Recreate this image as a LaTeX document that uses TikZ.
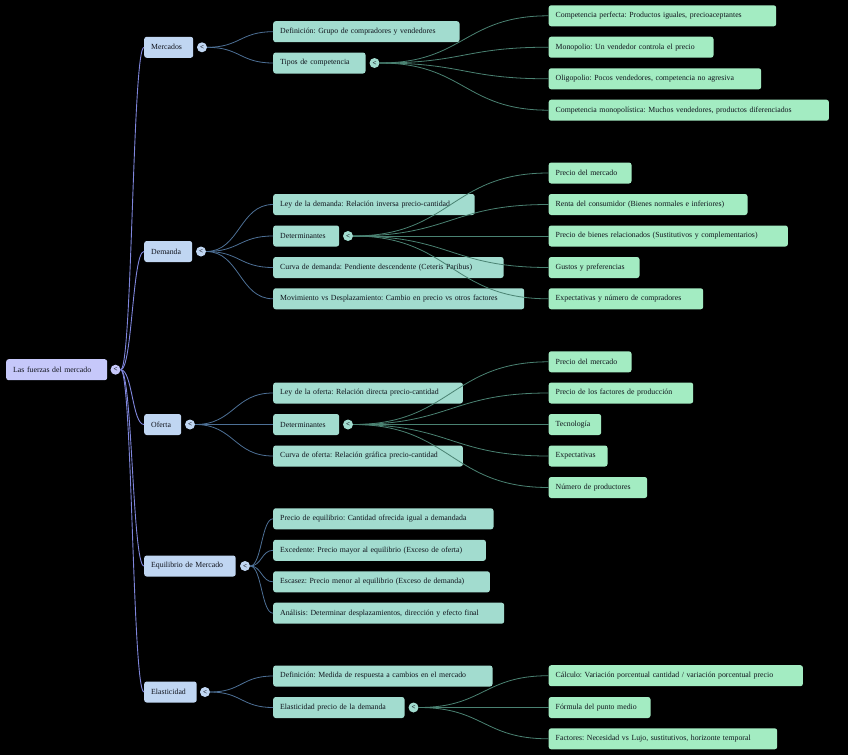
\documentclass[tikz,border=0pt]{standalone}
\usepackage{fontspec}
\setmainfont{Liberation Serif}
\usepackage{xcolor}
\usepackage{tikz}
\usetikzlibrary{calc}

\definecolor{rootfill}{HTML}{C6C8FA}
\definecolor{mainfill}{HTML}{C0D6F2}
\definecolor{subfill}{HTML}{A2DCCF}
\definecolor{leaffill}{HTML}{A3ECC2}
\definecolor{rootwire}{HTML}{7F86DC}
\definecolor{mainwire}{HTML}{4D7096}
\definecolor{subwire}{HTML}{4A8272}
\definecolor{ink}{HTML}{10131C}

% curved link: horizontal at both ends, bend at half way
\newcommand{\branch}[3]{\draw[#1] let \p1=(#2), \p2=(#3) in (\p1) .. controls ({(\x1+\x2)/2},\y1) and ({(\x1+\x2)/2},\y2) .. (\p2);}

\begin{document}
\begin{tikzpicture}[x=1pt, y=-1pt,
		box/.style={anchor=west, rounded corners=2.5pt, minimum height=21pt, inner xsep=7pt, inner ysep=0pt, align=left, text=ink, font=\fontsize{7.8}{9}\selectfont\frenchspacing},
		rootbox/.style={box, fill=rootfill},
		mainbox/.style={box, fill=mainfill},
		subbox/.style={box, fill=subfill},
		leafbox/.style={box, fill=leaffill},
		tog/.style={circle, fill=#1, inner sep=0pt, minimum size=10pt, text=ink, font=\fontsize{7}{7}\selectfont\bfseries},
		rootlink/.style={rootwire, line width=0.9pt},
		mainlink/.style={mainwire, line width=0.8pt},
		sublink/.style={subwire, line width=0.8pt}]
			\fill[black] (0,0) rectangle (848,755);
			\useasboundingbox (0,0) rectangle (848,755);
			% Root and first level:
			\node[rootbox, text width=87pt](N0) at (6, 369.7){Las fuerzas del mercado};
			\node[tog=rootfill](T0) at (115.5, 369.7){<};
			\node[mainbox, text width=35pt](N1) at (144, 47.3){Mercados};
			\node[tog=mainfill](T1) at (202, 47.3){<};
			\node[mainbox, text width=34pt](N2) at (144, 251.5){Demanda};
			\node[tog=mainfill](T2) at (201, 251.5){<};
			\node[mainbox, text width=23pt](N3) at (144, 424.5){Oferta};
			\node[tog=mainfill](T3) at (190, 424.5){<};
			\node[mainbox, text width=77.5pt](N4) at (144, 566){Equilibrio de Mercado};
			\node[tog=mainfill](T4) at (245, 566){<};
			\node[mainbox, text width=38.5pt](N5) at (144, 692){Elasticidad};
			\node[tog=mainfill](T5) at (205, 692){<};
			% Mercados:
			\node[subbox, text width=172.3pt](N11) at (273, 31.7){Definición: Grupo de compradores y vendedores};
			\node[subbox, text width=78.3pt](N12) at (273, 63){Tipos de competencia};
			\node[tog=subfill](T12) at (374.5, 63){<};
			\node[leafbox, text width=213.5pt](N121) at (548.5, 15.8){Competencia perfecta: Productos iguales, precioaceptantes};
			\node[leafbox, text width=150.8pt](N122) at (548.5, 47.2){Monopolio: Un vendedor controla el precio};
			\node[leafbox, text width=198.5pt](N123) at (548.5, 78.8){Oligopolio: Pocos vendedores, competencia no agresiva};
			\node[leafbox, text width=266.2pt](N124) at (548.5, 110.2){Competencia monopolística: Muchos vendedores, productos diferenciados};
			% Demanda:
			\node[subbox, text width=187.5pt](N21) at (273, 204.5){Ley de la demanda: Relación inversa precio-cantidad};
			\node[subbox, text width=52pt](N22) at (273, 236){Determinantes};
			\node[tog=subfill](T22) at (348, 236){<};
			\node[subbox, text width=216.4pt](N23) at (273, 267.5){Curva de demanda: Pendiente descendente (Ceteris Paribus)};
			\node[subbox, text width=237pt](N24) at (273, 298.8){Movimiento vs Desplazamiento: Cambio en precio vs otros factores};
			\node[leafbox, text width=68.8pt](N221) at (548.5, 173){Precio del mercado};
			\node[leafbox, text width=184.8pt](N222) at (548.5, 204.5){Renta del consumidor (Bienes normales e inferiores)};
			\node[leafbox, text width=225.2pt](N223) at (548.5, 236){Precio de bienes relacionados (Sustitutivos y complementarios)};
			\node[leafbox, text width=76.8pt](N224) at (548.5, 267.5){Gustos y preferencias};
			\node[leafbox, text width=140.5pt](N225) at (548.5, 298.8){Expectativas y número de compradores};
			% Oferta:
			\node[subbox, text width=175.7pt](N31) at (273, 393){Ley de la oferta: Relación directa precio-cantidad};
			\node[subbox, text width=52pt](N32) at (273, 424.5){Determinantes};
			\node[tog=subfill](T32) at (348, 424.5){<};
			\node[subbox, text width=175.7pt](N33) at (273, 456){Curva de oferta: Relación gráfica precio-cantidad};
			\node[leafbox, text width=68.8pt](N321) at (548.5, 361.8){Precio del mercado};
			\node[leafbox, text width=130.5pt](N322) at (548.5, 393){Precio de los factores de producción};
			\node[leafbox, text width=38.5pt](N323) at (548.5, 424.5){Tecnología};
			\node[leafbox, text width=44.8pt](N324) at (548.5, 456){Expectativas};
			\node[leafbox, text width=84.5pt](N325) at (548.5, 487.5){Número de productores};
			% Equilibrio de Mercado:
			\node[subbox, text width=206.3pt](N41) at (273, 518.8){Precio de equilibrio: Cantidad ofrecida igual a demandada};
			\node[subbox, text width=198.7pt](N42) at (273, 550.3){Excedente: Precio mayor al equilibrio (Exceso de oferta)};
			\node[subbox, text width=202.7pt](N43) at (273, 581.8){Escasez: Precio menor al equilibrio (Exceso de demanda)};
			\node[subbox, text width=217pt](N44) at (273, 613.2){Análisis: Determinar desplazamientos, dirección y efecto final};
			% Elasticidad:
			\node[subbox, text width=205.3pt](N51) at (273, 676){Definición: Medida de respuesta a cambios en el mercado};
			\node[subbox, text width=117.3pt](N52) at (273, 707.5){Elasticidad precio de la demanda};
			\node[tog=subfill](T52) at (413.5, 707.5){<};
			\node[leafbox, text width=240.2pt](N521) at (548.5, 675.7){Cálculo: Variación porcentual cantidad / variación porcentual precio};
			\node[leafbox, text width=87.8pt](N522) at (548.5, 707.5){Fórmula del punto medio};
			\node[leafbox, text width=214.5pt](N523) at (548.5, 738.8){Factores: Necesidad vs Lujo, sustitutivos, horizonte temporal};
			% Links:
			\foreach \k in {1,...,5}{\branch{rootlink}{T0.east}{N\k.west}}
			\foreach \k in {1,2}{\branch{mainlink}{T1.east}{N1\k.west}}
			\foreach \k in {1,...,4}{\branch{sublink}{T12.east}{N12\k.west}}
			\foreach \k in {1,...,4}{\branch{mainlink}{T2.east}{N2\k.west}}
			\foreach \k in {1,...,5}{\branch{sublink}{T22.east}{N22\k.west}}
			\foreach \k in {1,...,3}{\branch{mainlink}{T3.east}{N3\k.west}}
			\foreach \k in {1,...,5}{\branch{sublink}{T32.east}{N32\k.west}}
			\foreach \k in {1,...,4}{\branch{mainlink}{T4.east}{N4\k.west}}
			\foreach \k in {1,2}{\branch{mainlink}{T5.east}{N5\k.west}}
			\foreach \k in {1,...,3}{\branch{sublink}{T52.east}{N52\k.west}}
		\end{tikzpicture}
\end{document}
